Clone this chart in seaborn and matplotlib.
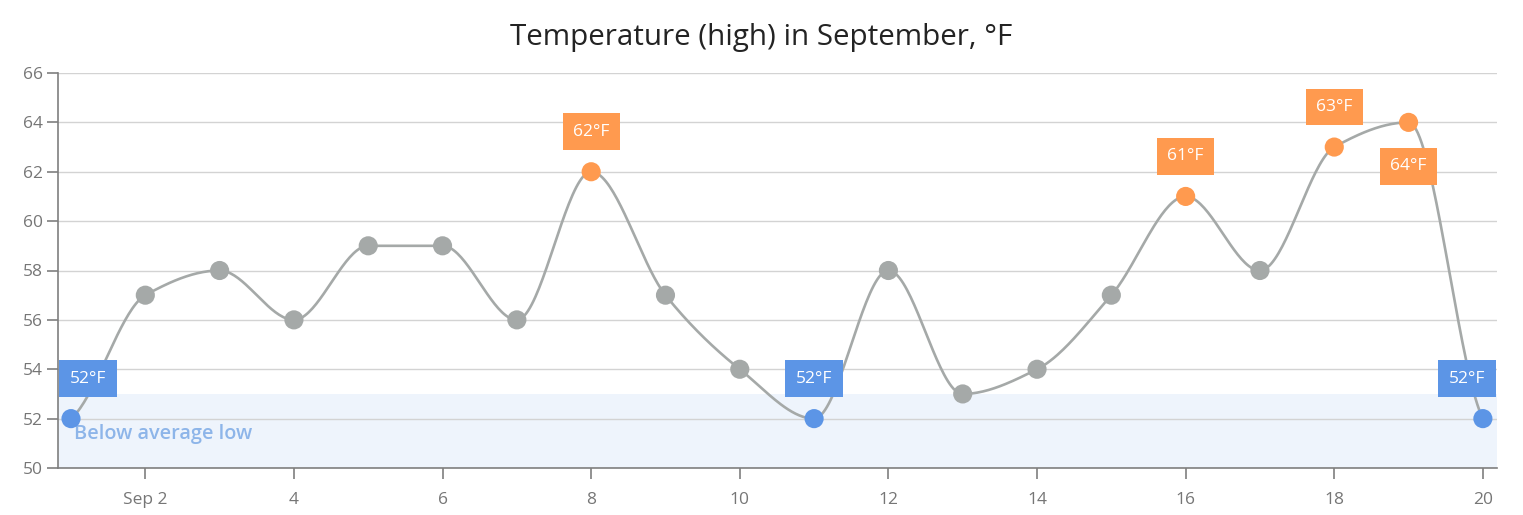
import numpy as np
import pandas as pd
import matplotlib
matplotlib.use("Agg")
import matplotlib.pyplot as plt
import seaborn as sns

# ---- data ----
days = [1, 2, 3, 4, 5, 6, 7, 8, 9, 10, 11, 12, 13, 14, 15, 16, 17, 18, 19, 20]
temps = [52, 57, 58, 56, 59, 59, 56, 62, 57, 54, 52, 58, 53, 54, 57, 61, 58, 63, 64, 52]
x_ticks = [2, 4, 6, 8, 10, 12, 14, 16, 18, 20]
x_tick_labels = ["Sep 2", "4", "6", "8", "10", "12", "14", "16", "18", "20"]
y_ticks = [50, 52, 54, 56, 58, 60, 62, 64, 66]
band_low, band_high = 50, 53
band_label = "Below average low"
high_threshold = 60
low_value = 52
below_label_days = [19]

title = "Temperature (high) in September, °F"

GRAY = "#a5a9a8"
ORANGE = "#ff9a4f"
BLUE = "#5c95e6"
TEXT = "#767676"

sns.set_theme(style="white")
plt.rcParams["font.family"] = ["Open Sans", "DejaVu Sans"]


def pchip(x, y, n=40):
    x = np.asarray(x, float)
    y = np.asarray(y, float)
    h = np.diff(x)
    d = np.diff(y) / h
    m = np.zeros_like(y)
    for k in range(1, len(y) - 1):
        if d[k - 1] * d[k] <= 0:
            m[k] = 0.0
        else:
            w1 = 2 * h[k] + h[k - 1]
            w2 = h[k] + 2 * h[k - 1]
            m[k] = (w1 + w2) / (w1 / d[k - 1] + w2 / d[k])
    m[0] = d[0] * 0.5
    m[-1] = d[-1] * 0.5
    xs, ys = [], []
    for k in range(len(x) - 1):
        t = np.linspace(0, 1, n, endpoint=False)
        h00 = 2 * t**3 - 3 * t**2 + 1
        h10 = t**3 - 2 * t**2 + t
        h01 = -2 * t**3 + 3 * t**2
        h11 = t**3 - t**2
        xs.append(x[k] + t * h[k])
        ys.append(h00 * y[k] + h10 * h[k] * m[k] + h01 * y[k + 1] + h11 * h[k] * m[k + 1])
    xs.append([x[-1]])
    ys.append([y[-1]])
    return np.concatenate(xs), np.concatenate(ys)


df = pd.DataFrame({"day": days, "temp": temps})
df["kind"] = np.where(df["temp"] > high_threshold, "high",
                      np.where(df["temp"] <= low_value, "low", "normal"))

sx, sy = pchip(days, temps)
curve = pd.DataFrame({"day": sx, "temp": sy})

fig = plt.figure(figsize=(15.23, 5.15), dpi=100)
ax = fig.add_axes([58 / 1523, 1 - 468 / 515, (1497 - 58) / 1523, (468 - 73) / 515])

ax.axhspan(band_low, band_high, color="#eef4fc", zorder=0, lw=0)
ax.text(0.011, 51.36, band_label, transform=ax.get_yaxis_transform(),
        color="#8db5e9", fontsize=14.3, fontweight="semibold", va="center", ha="left", zorder=1)

sns.lineplot(data=curve, x="day", y="temp", ax=ax, color=GRAY, lw=1.9, zorder=3,
             estimator=None, sort=False)
sns.scatterplot(data=df, x="day", y="temp", hue="kind", ax=ax,
                palette={"high": ORANGE, "low": BLUE, "normal": GRAY},
                s=190, edgecolor="none", legend=False, zorder=4)

ax.set_xlim(0.825, 20.19)
ax.set_ylim(50, 66)
ax.set_yticks(y_ticks)
ax.set_xticks(x_ticks)
ax.set_xticklabels(x_tick_labels)
ax.set_xlabel("")
ax.set_ylabel("")
ax.grid(axis="y", color="#d3d3d3", lw=1)
ax.set_axisbelow(True)
for s in ["top", "right"]:
    ax.spines[s].set_visible(False)
for s in ["left", "bottom"]:
    ax.spines[s].set_color("#7f7f7f")
    ax.spines[s].set_linewidth(1.2)
ax.tick_params(axis="y", which="both", left=True, length=8, width=1.2, color="#7f7f7f",
               labelcolor=TEXT, labelsize=12.5, pad=3)
ax.tick_params(axis="x", which="both", bottom=True, length=8, width=1.2, color="#7f7f7f",
               labelcolor=TEXT, labelsize=12.5, pad=9)

fig.text(0.5, 1 - 38 / 515, title, ha="center", va="center", fontsize=21.3, color="#232323")

# labels
fig.canvas.draw()
ax_bbox = ax.get_window_extent()
half_w = 30
for d, t, k in zip(df["day"], df["temp"], df["kind"]):
    if k == "normal":
        continue
    px, py = ax.transData.transform((d, t))
    cx = min(max(px, ax_bbox.x0 + half_w), ax_bbox.x1 - half_w)
    dx = cx - px
    dy = -42 if d in below_label_days else 42
    ax.annotate(f"{t}°F", xy=(d, t), xytext=(dx, dy), textcoords="offset pixels",
                ha="center", va="center_baseline", color="white", fontsize=12.5, zorder=6,
                bbox=dict(boxstyle="square,pad=0.6", fc=ORANGE if k == "high" else BLUE,
                          ec="none"))

fig.savefig("out.png", dpi=100)
